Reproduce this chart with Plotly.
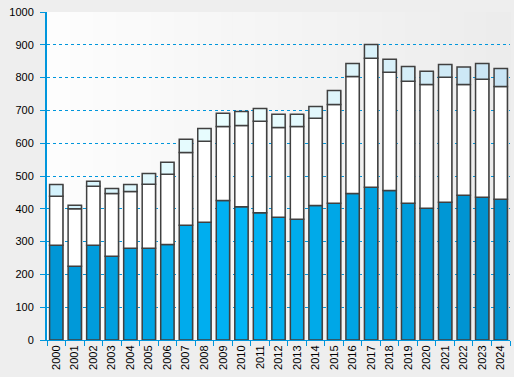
import plotly.graph_objects as go

years = [str(y) for y in range(2000, 2025)]
# cumulative levels
blue_top = [289, 225, 289, 255, 280, 280, 291, 350, 359, 425, 406, 388, 374, 368, 410, 417, 447, 466, 456, 417, 402, 420, 441, 435, 429]
white_top = [438, 400, 469, 447, 453, 475, 505, 572, 606, 651, 654, 667, 648, 651, 676, 718, 803, 859, 816, 789, 779, 801, 779, 795, 773]
totals = [474, 411, 484, 462, 474, 508, 542, 612, 645, 691, 697, 706, 688, 688, 712, 761, 843, 901, 856, 834, 819, 840, 832, 843, 828]

seg_bottom = blue_top
seg_middle = [w - b for w, b in zip(white_top, blue_top)]
seg_top = [t - w for t, w in zip(totals, white_top)]

n = len(years)

def lerp(c1, c2, t):
    return "#%02x%02x%02x" % tuple(int(round(a + (b - a) * t)) for a, b in zip(c1, c2))

def grad(left, mid, right):
    out = []
    for i in range(n):
        t = i / (n - 1)
        if t < 0.42:
            out.append(lerp(left, mid, t / 0.42))
        else:
            out.append(lerp(mid, right, (t - 0.42) / 0.58))
    return out

blue_cols = grad((0, 150, 214), (0, 180, 245), (0, 143, 204))
top_cols = grad((212, 242, 252), (236, 255, 255), (200, 228, 244))

line = dict(color="#404040", width=1.5)
fig = go.Figure()
fig.add_bar(x=years, y=totals, base=[0] * n, marker=dict(color="#b0b0b0", line=dict(width=0)),
            width=0.72, offset=-0.31, hoverinfo="skip", showlegend=False)
fig.add_bar(x=years, y=seg_bottom, base=[0] * n, marker=dict(color=blue_cols, line=line),
            width=0.72, offset=-0.36, showlegend=False)
fig.add_bar(x=years, y=seg_middle, base=blue_top, marker=dict(color="#ffffff", line=line),
            width=0.72, offset=-0.36, showlegend=False)
fig.add_bar(x=years, y=seg_top, base=white_top, marker=dict(color=top_cols, line=line),
            width=0.72, offset=-0.36, showlegend=False)

# background gradient strips (styling only)
strips = 40
shapes = []
for i in range(strips):
    t = i / (strips - 1)
    shapes.append(dict(type="rect", xref="x domain", yref="y domain",
                       x0=i / strips, x1=(i + 1) / strips + 0.002, y0=0, y1=1,
                       fillcolor=lerp((253, 253, 253), (236, 236, 236), t),
                       line=dict(width=0), layer="below"))

axcol = "#0096dc"
fig.update_layout(
    width=514, height=377,
    margin=dict(l=47, r=4, t=12, b=37, autoexpand=False),
    barmode="overlay",
    paper_bgcolor="#eeeeee",
    plot_bgcolor="#f7f7f7",
    shapes=shapes,
    font=dict(family="Liberation Sans, Arial, sans-serif", size=11, color="#000000"),
    xaxis=dict(type="category", tickangle=-90, showline=True, linecolor=axcol, linewidth=1,
               ticks="outside", tickcolor=axcol, ticklen=5, tickson="boundaries",
               showgrid=False, range=[-0.5, n - 0.5], fixedrange=True, automargin=False,
               tickfont=dict(size=11)),
    yaxis=dict(range=[0, 1000], dtick=100, showline=True, linecolor=axcol, linewidth=2,
               ticks="outside", tickcolor=axcol, ticklen=5, showgrid=True, gridcolor=axcol,
               griddash="dot", gridwidth=1, zeroline=False, fixedrange=True, automargin=False,
               ticklabelstandoff=4, tickfont=dict(size=11), layer="above traces"),
)
fig.write_html(
    "out.html",
    config={"displayModeBar": False},
    post_script="document.body.style.margin='0';document.body.style.background='#eeeeee';",
)
